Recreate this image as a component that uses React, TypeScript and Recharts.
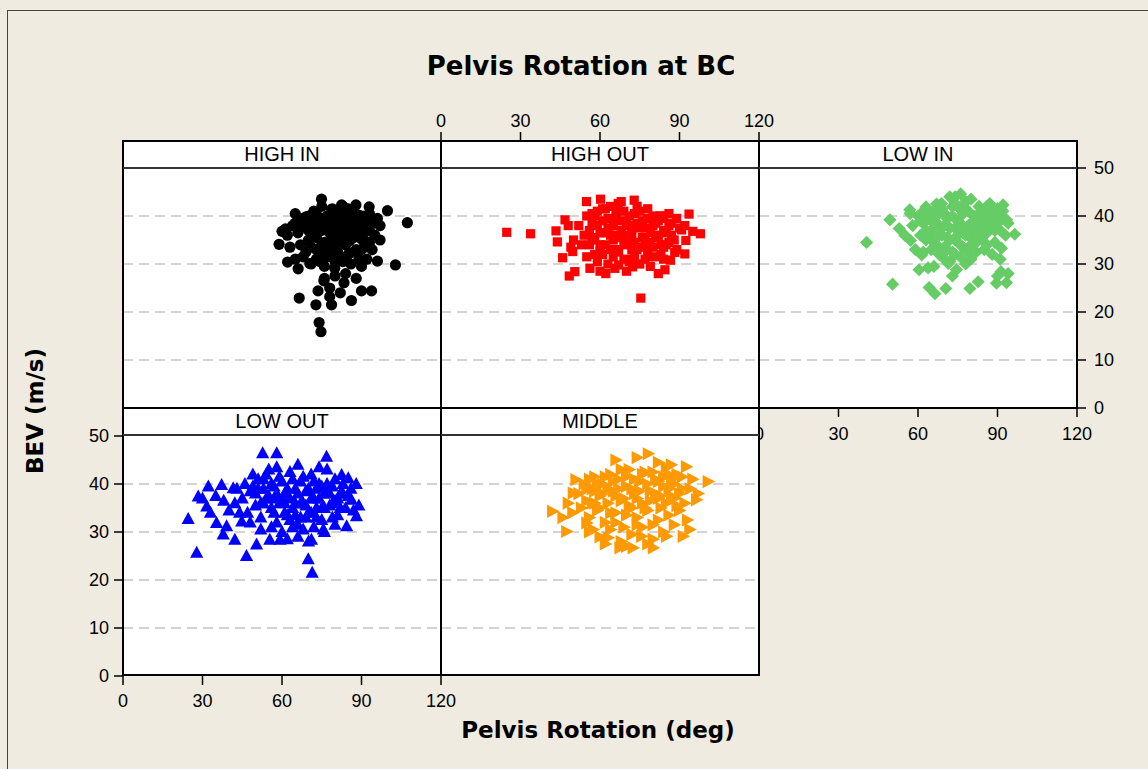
import React from 'react';
import { ScatterChart, Scatter, XAxis, YAxis, CartesianGrid } from 'recharts';

// ---------- axis / category values ----------
const xTicks = [0, 30, 60, 90, 120];
const yTicks = [0, 10, 20, 30, 40, 50];
const gridValues = [10, 20, 30, 40];
const panelNames = ['HIGH IN', 'HIGH OUT', 'LOW IN', 'LOW OUT', 'MIDDLE'];
const titleText = 'Pelvis Rotation at BC';
const xLabel = 'Pelvis Rotation (deg)';
const yLabel = 'BEV (m/s)';

// ---------- series values: [pelvis rotation (deg), BEV (m/s)] ----------
const highIn: [number, number][] = [
  [74.9, 43.5], [82.5, 42.3], [87.9, 42.3], [92.9, 41.9], [99.8, 41.1], [107.3, 38.6], [78.7, 41.4], [73, 40.3],
  [68, 39.5], [61.3, 37.3], [58.9, 34.1], [62.1, 30.4], [66.1, 29], [70.5, 30.1], [74.3, 30.5], [79.9, 29.1],
  [96, 30.6], [102.8, 29.8], [75.8, 26.5], [83.4, 26.1], [73.6, 24.4], [78, 23.2], [90, 24.4], [93.8, 24.4],
  [66.5, 22.9], [72.8, 21.5], [78.7, 21.5], [86.2, 22.4], [74, 17.8], [74.7, 15.9],
  [64, 38], [66, 36.5], [68, 37.8], [70, 35], [71, 38.5], [72, 36], [73, 33], [74, 39], [75, 37], [76, 34.5],
  [77, 40], [78, 36.5], [79, 38], [80, 33.5], [81, 39.5], [82, 35], [83, 37.5], [84, 40.5], [85, 32], [86, 38.5],
  [87, 35.5], [88, 39], [89, 36], [90, 33], [91, 40], [92, 37], [93, 34.5], [94, 38.5], [95, 36], [96, 39.5],
  [97, 35], [63, 33.5], [65, 31], [67, 34], [69, 32.5], [71, 30], [72, 41], [74, 31.5], [76, 29.5], [78, 32],
  [80, 30.5], [82, 31.5], [84, 34], [86, 30], [88, 33], [90, 29.5], [92, 31], [75, 42], [79, 41.5], [83, 42],
  [87, 41], [73, 35.5], [77, 33], [81, 36.5], [85, 36], [89, 38], [93, 40.5], [70, 40], [66, 39], [62, 36],
  [68, 31.5], [80, 27.5], [76, 27], [84, 28], [88, 27], [78, 25], [82, 24], [86, 37], [91, 35], [94, 33],
  [97, 38], [60, 36.8], [65, 38.5],
  [65, 40.5], [67, 38.2], [69, 39.8], [70, 37], [71, 36.2], [72, 38.8], [73, 37.5], [74, 36.8], [75, 34], [75.5, 39.5],
  [76, 37.8], [77, 38.5], [78, 34], [78.5, 39.8], [79, 35.5], [80, 37], [80.5, 41], [81, 34.5], [82, 38], [82.5, 40.5],
  [83, 35.8], [84, 38.8], [85, 41.5], [85.5, 34.8], [86, 39.8], [87, 37.5], [88, 36.8], [89, 40.2], [90, 35.2], [90.5, 38.5],
  [91, 33.5], [92, 39], [93, 37], [71, 33.5], [73, 31], [75, 32.5], [77, 31.5], [79, 33], [81, 32.5], [83, 30.5],
  [87, 32.5], [89, 31],
];

const highOut: [number, number][] = [
  [24.8, 36.6], [33.8, 36.3], [43.4, 36.9], [43.9, 34.6], [45.9, 31.3], [48.4, 27.5], [50.5, 28.4], [46.8, 39.2],
  [49.7, 32.6], [54.9, 43], [60.2, 43.5], [72.9, 43.3], [66.9, 42.6], [56.2, 29.1], [62.2, 28], [65.6, 29.1],
  [72.3, 29.4], [84.5, 28.8], [75.4, 22.9], [86.6, 30.8], [88.2, 32.4], [92, 32.1], [92.4, 34.9], [90.8, 37.1],
  [88.9, 39.5], [93.6, 40.4], [97.9, 36.3], [82.6, 40],
  [52, 38], [54, 36], [55, 40], [56, 34], [57, 38.5], [58, 32], [59, 41], [60, 36.5], [61, 39], [62, 34],
  [63, 37.5], [64, 42], [65, 35], [66, 39.5], [67, 32.5], [68, 37], [69, 41], [70, 34.5], [71, 38], [72, 36],
  [73, 40.5], [74, 33], [75, 37.5], [76, 39], [77, 35], [78, 41.5], [79, 36.5], [80, 33.5], [81, 38.5], [82, 35.5],
  [83, 40], [84, 37], [85, 34], [86, 38], [87, 36], [88, 35], [89, 33], [90, 37.5], [53, 34], [55, 31.5],
  [57, 35.5], [59, 30.5], [61, 32], [63, 30], [65, 31.5], [67, 29.8], [69, 31], [71, 30.5], [73, 31.5], [75, 30],
  [77, 31], [79, 29.5], [81, 31.5], [83, 32], [62, 41.5], [68, 43], [74, 42], [80, 40], [86, 40.5], [58, 40],
  [70, 36], [66, 36], [76, 35.5], [72, 33], [64, 33], [78, 33], [84, 31], [50, 35], [48, 38], [49, 33.5],
  [82, 28], [60, 28.5], [70, 28.5], [92, 38], [95, 36.8],
  [56, 37], [57, 40.5], [58, 35], [59, 38], [60, 34], [61, 41.5], [62, 36.5], [63, 39.5], [64, 36], [65, 38],
  [66, 41], [67, 35.5], [68, 39], [69, 34], [70, 38.5], [71, 40], [72, 37.5], [73, 34.5], [74, 38.5], [75, 41],
  [76, 33.5], [77, 37.5], [78, 39.5], [79, 34.5], [80, 38], [81, 36], [82, 39], [83, 34], [84, 39.5], [85, 36.5],
  [86, 34.5], [87, 38.5], [60, 32.5], [66, 33], [72, 31], [78, 31.5], [84, 33.5],
];

const lowIn: [number, number][] = [
  [40.6, 34.5], [50.4, 25.8], [49.4, 39.2], [52.9, 37.4], [56.9, 41.3], [57.2, 34.9], [60.4, 28.8], [63.8, 29.2],
  [64.2, 25.1], [66.4, 23.8], [70.5, 24.9], [74.5, 28.8], [79.6, 24.9], [82.7, 26.3], [89.6, 26], [91.3, 28.4],
  [94, 28], [93.4, 26.1], [91, 31], [91.5, 33.3], [96.5, 36.2], [93.4, 39.2], [92.1, 42.3], [76.1, 44.6],
  [72, 44], [63, 41.9], [68.9, 42.6], [87.1, 42.6], [71.4, 30.1], [61.4, 31.9],
  [58, 38], [60, 40], [61, 36], [62, 38.5], [63, 35], [64, 39.5], [65, 37], [66, 41], [67, 34], [68, 38],
  [69, 36], [70, 40.5], [71, 33], [72, 37.5], [73, 42], [74, 35], [75, 39], [76, 41.5], [77, 36.5], [78, 43],
  [79, 38], [80, 34], [81, 40], [82, 37], [83, 42], [84, 35.5], [85, 39], [86, 36.5], [87, 40.5], [88, 38],
  [89, 34.5], [90, 39.5], [91, 37], [92, 41], [93, 36], [94, 38.5], [59, 33], [62, 32.5], [65, 33], [68, 32],
  [70, 31], [72, 30.5], [74, 32], [76, 31.5], [78, 30], [80, 31], [82, 32.5], [85, 33], [88, 32], [67, 42.5],
  [74, 44], [80, 43.5], [86, 42], [69, 37.5], [75, 36], [81, 35], [64, 36.5], [71, 35.5], [77, 33.5], [83, 38],
  [89, 41], [66, 29.5], [73, 27.5], [79, 36], [55, 36], [57, 40.5], [90, 27.5],
  [61, 39], [62, 41], [63, 37], [64, 40.5], [65, 35], [66, 38.5], [67, 40], [68, 36], [69, 41.5], [70, 38],
  [71, 39.5], [72, 35], [73, 40], [74, 37.5], [75, 42], [76, 38.5], [77, 40.5], [78, 36], [79, 41], [80, 38.5],
  [81, 37.5], [82, 40], [83, 36], [84, 41], [85, 37], [86, 39.5], [87, 37.5], [88, 40], [89, 37], [90, 41.5],
  [91, 39], [70, 33.5], [76, 34], [82, 34.5], [86, 34], [73, 32.5], [79, 32.5],
];

const lowOut: [number, number][] = [
  [52.7, 46.4], [58, 46.4], [76.8, 45.7], [24.6, 32.7], [27.8, 25.7], [28.4, 37.4], [32.2, 39.5], [37.2, 39.8],
  [35.3, 31.9], [37.8, 29.5], [39.1, 31.2], [42.2, 28.4], [44.8, 32.2], [46.6, 25], [50.4, 27.4], [31.6, 35.3],
  [41.6, 39.1], [42.2, 36], [55.4, 28.4], [59.2, 28.4], [69.9, 24.3], [71.4, 21.5], [71.1, 28.4], [75.6, 30.5],
  [84.4, 31.2], [88.1, 33.3], [86.2, 36.7], [82.5, 41.9], [85, 41.2],
  [45, 37], [46, 40], [47, 34], [48, 38.5], [49, 42], [50, 35.5], [51, 39], [52, 33], [53, 41], [54, 37],
  [55, 43], [56, 35], [57, 39.5], [58, 32], [59, 41.5], [60, 36.5], [61, 38], [62, 33.5], [63, 42.5], [64, 35],
  [65, 39], [66, 31.5], [67, 40.5], [68, 36], [69, 38.5], [70, 34], [71, 42], [72, 37], [73, 35], [74, 40],
  [75, 32.5], [76, 38], [77, 43], [78, 35.5], [79, 39.5], [80, 36.5], [81, 33.5], [82, 38], [83, 40], [84, 35],
  [85, 37.5], [86, 39], [87, 34.5], [48, 32], [52, 30.5], [56, 31], [60, 30], [64, 31], [68, 30.5], [72, 31],
  [76, 30], [80, 31.5], [62, 28.5], [66, 29], [70, 28], [58, 43.5], [66, 44], [74, 43.5], [61, 34], [65, 36],
  [69, 33], [73, 39], [57, 37], [53, 36], [49, 39.5], [44, 34], [43, 39], [38, 36.5], [35, 37.5], [30, 37],
  [33, 34], [40, 34.5], [88, 40], [89, 35.5],
  [50, 38], [51, 41], [52, 36], [53, 39], [54, 42], [55, 37.5], [56, 40], [57, 34], [58, 38], [59, 36],
  [60, 40.5], [61, 36], [62, 39], [63, 37], [64, 41], [65, 33.5], [66, 38], [67, 36], [68, 41.5], [69, 35.5],
  [70, 39], [71, 37], [72, 40.5], [73, 33], [74, 37], [75, 39.5], [76, 35], [77, 40], [78, 38], [79, 33],
  [80, 41], [81, 37], [82, 35], [83, 38], [63, 32.5], [67, 33], [71, 34], [75, 35], [79, 36],
];

const middle: [number, number][] = [
  [78.2, 46.3], [100.8, 40.5], [42.1, 34.3], [47.4, 30.1], [50.9, 40.9], [49.9, 38.1], [49.7, 34], [67.5, 26.7],
  [72.5, 26.7], [80.1, 26.7], [63.1, 28.8], [91.4, 29.1], [93.9, 30.5], [96.4, 36.7], [92.6, 43.6], [86.9, 44],
  [75.7, 29.1], [85.1, 29.1], [57.4, 30.5], [55, 31.9],
  [52, 38], [53, 35], [54, 40], [55, 36.5], [56, 33], [57, 39], [58, 41.5], [59, 34.5], [60, 37.5], [61, 40],
  [62, 32], [63, 36], [64, 42], [65, 38.5], [66, 34], [67, 41], [68, 36.5], [69, 31], [70, 39.5], [71, 43],
  [72, 35], [73, 38], [74, 33], [75, 40.5], [76, 36], [77, 42.5], [78, 34.5], [79, 38.5], [80, 31.5], [81, 41],
  [82, 37], [83, 35], [84, 39.5], [85, 43.5], [86, 33.5], [87, 37.5], [88, 40], [89, 35.5], [90, 38], [91, 41.5],
  [92, 36], [93, 32.5], [94, 39], [56, 30], [60, 29], [64, 30.5], [68, 28], [72, 29.5], [76, 31], [80, 28.5],
  [84, 30], [88, 31.5], [62, 27.5], [70, 27], [78, 27.5], [66, 45], [74, 45.5], [82, 44.5], [58, 36], [70, 33.5],
  [86, 42], [95, 41], [97, 38], [48, 36], [46, 33],
  [55, 39], [56, 41], [57, 36], [58, 38.5], [59, 40], [60, 35], [61, 38], [62, 41.5], [63, 39], [64, 34],
  [65, 40.5], [66, 37.5], [67, 39], [68, 43], [69, 37], [70, 41.5], [71, 35.5], [72, 39], [73, 41], [74, 37],
  [75, 38.5], [76, 42], [77, 35], [78, 40], [79, 36.5], [80, 42.5], [81, 38], [82, 40.5], [83, 37.5], [84, 41.5],
  [85, 36], [86, 39], [87, 41], [88, 37], [89, 42], [90, 34.5], [91, 39], [66, 32], [74, 31.5], [82, 32.5],
];

const toPoints = (arr: [number, number][]) => arr.map(([x, y]) => ({ x, y }));

// ---------- marker shapes ----------
const CircleShape = (p: any) => <circle cx={p.cx} cy={p.cy} r={5.6} fill="#000000" />;
const SquareShape = (p: any) => <rect x={p.cx - 4.6} y={p.cy - 4.6} width={9.2} height={9.2} fill="#ff0000" />;
const DiamondShape = (p: any) => (
  <polygon points={`${p.cx},${p.cy - 6.6} ${p.cx + 6.6},${p.cy} ${p.cx},${p.cy + 6.6} ${p.cx - 6.6},${p.cy}`} fill="#66cc66" />
);
const TriangleShape = (p: any) => (
  <polygon points={`${p.cx},${p.cy - 7} ${p.cx + 6.6},${p.cy + 5} ${p.cx - 6.6},${p.cy + 5}`} fill="#0000ff" />
);
const RightTriangleShape = (p: any) => (
  <polygon points={`${p.cx + 7},${p.cy} ${p.cx - 5.5},${p.cy - 6.6} ${p.cx - 5.5},${p.cy + 6.6}`} fill="#ff9900" />
);
const NoShape = () => <g />;

// ---------- layout ----------
const M = 50;
const W = 318;
const H = 240;
const HEADER = 27;
const BG = '#efebe1';
const tickFont = { fill: '#000', fontSize: 18, fontFamily: 'Liberation Sans, Arial, sans-serif' };
const tickLineStyle = { stroke: '#000', strokeWidth: 1.5 };

type PanelProps = {
  left: number;
  top: number;
  data: [number, number][];
  shape: (p: any) => React.ReactElement;
  axisBottom?: boolean;
  axisLeft?: boolean;
  axisRight?: boolean;
  xMargin?: number;
};

function PlotPanel(p: PanelProps) {
  const margin = {
    top: M,
    bottom: p.axisBottom ? 0 : M,
    left: p.axisLeft ? 0 : M,
    right: p.axisRight ? 0 : M,
  };
  const showY = !!(p.axisLeft || p.axisRight);
  return (
    <div style={{ position: 'absolute', left: p.left - M, top: p.top - M }}>
      <ScatterChart width={W + 2 * M} height={H + 2 * M} margin={margin}>
        <CartesianGrid
          vertical={false}
          horizontalValues={gridValues}
          stroke="#c6c6c6"
          strokeWidth={1.6}
          strokeDasharray="10 6"
          fill="#ffffff"
          fillOpacity={1}
        />
        <XAxis
          type="number"
          dataKey="x"
          domain={[0, 120]}
          ticks={xTicks}
          interval={0}
          allowDataOverflow
          hide={!p.axisBottom}
          orientation="bottom"
          height={M}
          axisLine={false}
          tickLine={tickLineStyle}
          tickSize={9}
          tickMargin={p.xMargin ?? 9}
          tick={tickFont}
        />
        <YAxis
          type="number"
          dataKey="y"
          domain={[0, 50]}
          ticks={yTicks}
          interval={0}
          allowDataOverflow
          hide={!showY}
          orientation={p.axisRight ? 'right' : 'left'}
          width={M}
          axisLine={false}
          tickLine={tickLineStyle}
          tickSize={9}
          tickMargin={p.axisRight ? 8 : 5}
          tick={tickFont}
        />
        <Scatter data={toPoints(p.data)} shape={p.shape} isAnimationActive={false} />
      </ScatterChart>
    </div>
  );
}

// top x-axis that sits on the header strip of the HIGH OUT panel
function TopAxisStrip({ left, top, data }: { left: number; top: number; data: [number, number][] }) {
  return (
    <div style={{ position: 'absolute', left: left - M, top: top - M }}>
      <ScatterChart width={W + 2 * M} height={HEADER + 2 * M} margin={{ top: 0, bottom: M, left: M, right: M }}>
        <XAxis
          type="number"
          dataKey="x"
          domain={[0, 120]}
          ticks={xTicks}
          interval={0}
          allowDataOverflow
          orientation="top"
          height={M}
          axisLine={false}
          tickLine={tickLineStyle}
          tickSize={9}
          tickMargin={5}
          tick={tickFont}
        />
        <YAxis type="number" dataKey="y" domain={[0, 50]} hide />
        <Scatter data={toPoints(data)} shape={NoShape} isAnimationActive={false} />
      </ScatterChart>
    </div>
  );
}

function Header({ left, top, name }: { left: number; top: number; name: string }) {
  return (
    <div
      style={{
        position: 'absolute',
        left,
        top,
        width: W,
        height: HEADER,
        background: '#ffffff',
        textAlign: 'center',
        lineHeight: `${HEADER}px`,
        fontSize: 20,
        fontFamily: 'Liberation Sans, Arial, sans-serif',
        color: '#000',
      }}
    >
      {name}
    </div>
  );
}

function Frame({ left, top }: { left: number; top: number }) {
  return (
    <>
      <div
        style={{
          position: 'absolute',
          left: left - 1,
          top: top - 1,
          width: W + 2,
          height: HEADER + H + 2,
          border: '2px solid #000',
          boxSizing: 'border-box',
        }}
      />
      <div style={{ position: 'absolute', left: left, top: top + HEADER - 1, width: W, height: 2, background: '#333' }} />
    </>
  );
}

export default function App() {
  const c1 = 123;
  const c2 = c1 + W;
  const c3 = c2 + W;
  const r1h = 141;
  const r1 = r1h + HEADER; // 168
  const r2h = r1 + H; // 408
  const r2 = r2h + HEADER + 1; // 436

  return (
    <div
      style={{
        position: 'absolute',
        left: 0,
        top: 0,
        width: 1148,
        height: 769,
        background: BG,
        overflow: 'hidden',
      }}
    >
      <div
        style={{
          position: 'absolute',
          left: 7,
          top: 10,
          width: 1200,
          height: 800,
          borderTop: '1px solid #444',
          borderLeft: '1px solid #444',
        }}
      />
      <div
        style={{
          position: 'absolute',
          left: 0,
          width: 1162,
          top: 51,
          textAlign: 'center',
          fontFamily: 'DejaVu Sans, Verdana, sans-serif',
          fontWeight: 'bold',
          fontSize: 26,
          color: '#000',
        }}
      >
        {titleText}
      </div>

      {/* top row */}
      <PlotPanel left={c1} top={r1} data={highIn} shape={CircleShape} />
      <PlotPanel left={c2} top={r1} data={highOut} shape={SquareShape} />
      <PlotPanel left={c3} top={r1} data={lowIn} shape={DiamondShape} axisBottom axisRight xMargin={10} />
      <Header left={c1} top={r1h} name={panelNames[0]} />
      <Header left={c2} top={r1h} name={panelNames[1]} />
      <Header left={c3} top={r1h} name={panelNames[2]} />
      <Frame left={c1} top={r1h} />
      <Frame left={c2} top={r1h} />
      <Frame left={c3} top={r1h} />
      <TopAxisStrip left={c2} top={r1h} data={highOut} />

      {/* bottom row */}
      <Header left={c1} top={r2h} name={panelNames[3]} />
      <Header left={c2} top={r2h} name={panelNames[4]} />
      <PlotPanel left={c1} top={r2} data={lowOut} shape={TriangleShape} axisBottom axisLeft xMargin={9} />
      <PlotPanel left={c2} top={r2} data={middle} shape={RightTriangleShape} />
      <Frame left={c1} top={r2h} />
      <Frame left={c2} top={r2h} />

      <div
        style={{
          position: 'absolute',
          left: 598 - 200,
          width: 400,
          top: 717,
          textAlign: 'center',
          fontFamily: 'DejaVu Sans, Verdana, sans-serif',
          fontWeight: 'bold',
          fontSize: 23,
          color: '#000',
        }}
      >
        {xLabel}
      </div>
      <div
        style={{
          position: 'absolute',
          left: 35 - 100,
          top: 411 - 15,
          width: 200,
          height: 30,
          lineHeight: '30px',
          textAlign: 'center',
          transform: 'rotate(-90deg)',
          fontFamily: 'DejaVu Sans, Verdana, sans-serif',
          fontWeight: 'bold',
          fontSize: 23,
          color: '#000',
        }}
      >
        {yLabel}
      </div>
    </div>
  );
}
